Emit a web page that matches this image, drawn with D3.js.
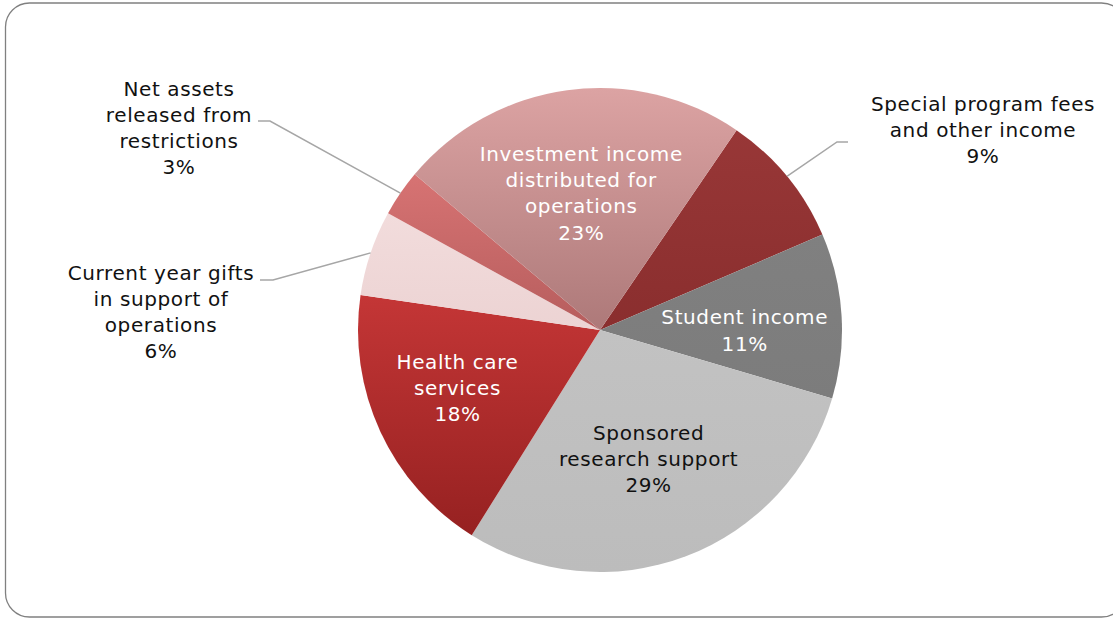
<!DOCTYPE html>
<html>
<head>
<meta charset="utf-8">
<script src="https://cdn.jsdelivr.net/npm/d3@7"></script>
<style>
  html, body { margin: 0; padding: 0; background: #ffffff; }
  svg { display: block; }
</style>
</head>
<body>
<svg id="chart" width="1113" height="618"></svg>
<script>
// ---- data ----
const categories = [
  "Special program fees and other income",
  "Student income",
  "Sponsored research support",
  "Health care services",
  "Current year gifts in support of operations",
  "Net assets released from restrictions",
  "Investment income distributed for operations"
];
const values = [9.0, 11.0, 29.3, 18.4, 5.7, 3.1, 23.4];
const labelLines = [
  ["Special program fees", "and other income"],
  ["Student income"],
  ["Sponsored", "research support"],
  ["Health care", "services"],
  ["Current year gifts", "in support of", "operations"],
  ["Net assets", "released from", "restrictions"],
  ["Investment income", "distributed for", "operations"]
];
const topColors    = ["#983737", "#808080", "#c2c2c2", "#c43636", "#f2dcdc", "#d77373", "#dca3a3"];
const bottomColors = ["#8a2e2e", "#7c7c7c", "#bcbcbc", "#962121", "#ecd3d3", "#b65d5d", "#ad7979"];
const labelColors  = ["#111", "#fff", "#111", "#fff", "#111", "#111", "#fff"];
const outside      = [true, false, false, false, true, true, false];

// ---- layout (not data) ----
const W = 1113, H = 618;
const cx = 600, cy = 330, R = 242;
const startDeg = 34.35;
const insideR = [0, 145, 137, 157, 0, 0, 138];
const insideDy = [0, 9, 1, -8, 0, 0, 0];
// outside label: elbow point and text anchor relative to pie centre
const outLayout = {
  0: { elbow: [237, -188], end: [248, -188], text: [383, -200] },
  4: { elbow: [-327, -50], end: [-340, -50], text: [-439, -18] },
  5: { elbow: [-330, -209], end: [-342, -209], text: [-421, -202] }
};
const lineH = 26.2;
const fontSize = 20;
const letterSpacing = 0.6;

const svg = d3.select("#chart");
const defs = svg.append("defs");

// frame
svg.append("rect")
  .attr("x", 5.5).attr("y", 3).attr("width", 1120).attr("height", 614)
  .attr("rx", 24).attr("ry", 24)
  .attr("fill", "none").attr("stroke", "#808080").attr("stroke-width", 1.3);

const total = d3.sum(values);
const rows = categories.map((c, i) => ({ i, c, v: values[i] }));

const pie = d3.pie().value(d => d.v).sort(null)
  .startAngle(startDeg * Math.PI / 180)
  .endAngle(startDeg * Math.PI / 180 + 2 * Math.PI);
const arcs = pie(rows);

rows.forEach((d, i) => {
  const g = defs.append("linearGradient")
    .attr("id", "grad" + i)
    .attr("x1", 0).attr("y1", 0).attr("x2", 0).attr("y2", 1);
  g.append("stop").attr("offset", "0%").attr("stop-color", topColors[i]);
  g.append("stop").attr("offset", "100%").attr("stop-color", bottomColors[i]);
});

const arc = d3.arc().innerRadius(0).outerRadius(R);
const gPie = svg.append("g").attr("transform", `translate(${cx},${cy})`);

gPie.selectAll("path.slice").data(arcs).join("path")
  .attr("class", "slice")
  .attr("d", arc)
  .attr("fill", d => `url(#grad${d.data.i})`)
  .attr("stroke", "none");

// leader lines
const edgeArc = d3.arc().innerRadius(R).outerRadius(R);
arcs.filter(d => outside[d.data.i]).forEach(d => {
  const L = outLayout[d.data.i];
  const p0 = edgeArc.centroid(d);
  gPie.append("path")
    .attr("d", d3.line()([p0, L.elbow, L.end]))
    .attr("fill", "none").attr("stroke", "#a6a6a6").attr("stroke-width", 1.5);
});

function pct(v) { return Math.round(v / total * 100) + "%"; }

const fontFamily = "Verdana, 'DejaVu Sans', sans-serif";

arcs.forEach(d => {
  const i = d.data.i;
  const lines = labelLines[i].concat([pct(d.data.v)]);
  let x, y;
  if (outside[i]) {
    const L = outLayout[i];
    x = L.text[0]; y = L.text[1];
  } else {
    const c = d3.arc().innerRadius(insideR[i]).outerRadius(insideR[i]).centroid(d);
    x = c[0]; y = c[1] + insideDy[i];
  }
  const t = gPie.append("text")
    .attr("text-anchor", "middle")
    .attr("font-family", fontFamily)
    .attr("font-size", fontSize)
    .attr("letter-spacing", letterSpacing)
    .attr("fill", labelColors[i]);
  const n = lines.length;
  lines.forEach((s, k) => {
    t.append("tspan")
      .attr("x", x)
      .attr("y", y + (k - (n - 1) / 2) * lineH)
      .attr("dominant-baseline", "central")
      .text(s);
  });
});
</script>
</body>
</html>
